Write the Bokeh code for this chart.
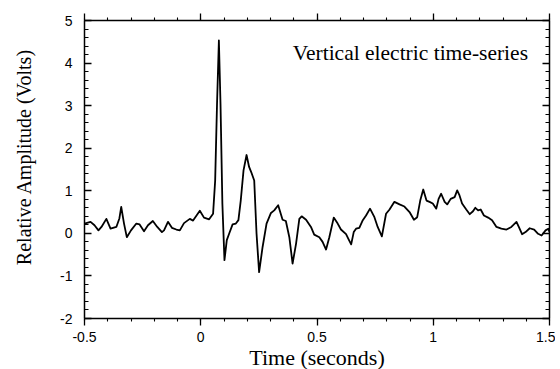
from bokeh.plotting import figure
from bokeh.models import (Range1d, LinearAxis, SingleIntervalTicker,
                          NumeralTickFormatter, CustomJSTickFormatter, Label,
                          ColumnDataSource)
from bokeh.embed import file_html
from bokeh.resources import INLINE

# ---- data ----
time_s = [-0.5, -0.474, -0.457, -0.44, -0.427, -0.406, -0.388, -0.363, -0.35, -0.342,
          -0.33, -0.318, -0.30, -0.277, -0.263, -0.244, -0.227, -0.206, -0.187, -0.167,
          -0.158, -0.141, -0.124, -0.105, -0.09, -0.072, -0.047, -0.033, -0.004, 0.014,
          0.036, 0.053, 0.062, 0.07, 0.078, 0.085, 0.093, 0.102, 0.112, 0.122,
          0.137, 0.151, 0.162, 0.172, 0.184, 0.197, 0.208, 0.217, 0.23, 0.24,
          0.251, 0.266, 0.283, 0.302, 0.316, 0.333, 0.352, 0.366, 0.381, 0.395,
          0.41, 0.424, 0.434, 0.453, 0.474, 0.488, 0.51, 0.524, 0.539, 0.553,
          0.572, 0.589, 0.603, 0.625, 0.635, 0.647, 0.658, 0.668, 0.682, 0.697,
          0.711, 0.728, 0.747, 0.761, 0.779, 0.797, 0.812, 0.833, 0.855, 0.876,
          0.898, 0.917, 0.931, 0.944, 0.957, 0.971, 0.984, 0.998, 1.013, 1.023,
          1.034, 1.049, 1.06, 1.075, 1.092, 1.103, 1.113, 1.124, 1.142, 1.157,
          1.171, 1.181, 1.193, 1.204, 1.218, 1.236, 1.253, 1.272, 1.293, 1.315,
          1.336, 1.358, 1.368, 1.382, 1.397, 1.415, 1.434, 1.451, 1.466, 1.483,
          1.495, 1.5]
amplitude_v = [0.23, 0.27, 0.19, 0.07, 0.15, 0.34, 0.11, 0.15, 0.35, 0.62,
               0.23, -0.09, 0.07, 0.23, 0.21, 0.05, 0.19, 0.29, 0.15, 0.03,
               0.07, 0.27, 0.13, 0.09, 0.07, 0.24, 0.34, 0.30, 0.53, 0.37,
               0.33, 0.46, 1.24, 3.04, 4.53, 3.04, 0.70, -0.63, -0.16, -0.01,
               0.21, 0.23, 0.31, 0.77, 1.48, 1.84, 1.56, 1.44, 1.24, -0.01,
               -0.91, -0.32, 0.23, 0.48, 0.54, 0.66, 0.32, 0.29, -0.09, -0.71,
               -0.24, 0.34, 0.40, 0.32, 0.15, -0.03, -0.09, -0.2, -0.38, -0.09,
               0.37, 0.23, 0.09, -0.02, -0.13, -0.26, 0.03, 0.11, 0.13, 0.31,
               0.42, 0.58, 0.38, 0.15, -0.07, 0.46, 0.56, 0.74, 0.68, 0.63,
               0.50, 0.32, 0.38, 0.77, 1.03, 0.77, 0.74, 0.70, 0.58, 0.81,
               0.93, 0.74, 0.68, 0.81, 0.85, 1.01, 0.89, 0.70, 0.56, 0.45,
               0.52, 0.60, 0.54, 0.56, 0.42, 0.37, 0.31, 0.15, 0.11, 0.09,
               0.15, 0.27, 0.15, -0.02, 0.03, 0.12, 0.09, -0.01, -0.05, 0.07,
               0.11, 0.03]

x_limits = (-0.5, 1.5)
y_limits = (-2, 5)
x_major_interval = 0.5
y_major_interval = 1

title_text = "Vertical electric time-series"
x_label_text = "Time (seconds)"
# leading no-break spaces lift the centred label slightly, as in the reference
y_label_text = "\u00a0\u00a0\u00a0\u00a0\u00a0Relative Amplitude (Volts)"

SANS = "Liberation Sans"
SERIF = "Liberation Serif"

p = figure(frame_width=465, frame_height=298,
           x_range=Range1d(*x_limits), y_range=Range1d(*y_limits),
           output_backend="svg", toolbar_location=None,
           min_border_left=84, min_border_top=20, min_border_right=6,
           min_border_bottom=10, x_axis_location=None, y_axis_location=None)
p.outline_line_color = None
p.xgrid.grid_line_color = None
p.ygrid.grid_line_color = None
p.background_fill_color = "white"
p.border_fill_color = "white"

blank = CustomJSTickFormatter(code="return ''")


def make_x_axis(show_labels):
    ax = LinearAxis(ticker=SingleIntervalTicker(interval=x_major_interval, num_minor_ticks=5),
                    formatter=NumeralTickFormatter(format="0.[0]") if show_labels else blank)
    ax.axis_line_width = 1.5
    ax.major_tick_line_width = 1.3
    ax.minor_tick_line_width = 1.1
    ax.major_tick_in = 0
    ax.major_tick_out = 7
    ax.minor_tick_in = 0
    ax.minor_tick_out = 3
    ax.major_label_text_font = SANS
    ax.major_label_text_color = "black"
    ax.major_label_text_font_size = "14px"
    ax.major_label_standoff = 6 if show_labels else 0
    return ax


def make_y_axis(show_labels):
    ax = LinearAxis(ticker=SingleIntervalTicker(interval=y_major_interval, num_minor_ticks=5),
                    formatter=NumeralTickFormatter(format="0") if show_labels else blank)
    ax.axis_line_width = 1.5
    ax.major_tick_line_width = 1.3
    ax.minor_tick_line_width = 1.1
    ax.major_tick_in = 7
    ax.major_tick_out = 0
    ax.minor_tick_in = 4
    ax.minor_tick_out = 0
    ax.major_label_text_font = SANS
    ax.major_label_text_color = "black"
    ax.major_label_text_font_size = "14px"
    ax.major_label_standoff = 12 if show_labels else 0
    return ax


xb = make_x_axis(True)
xb.axis_label = x_label_text
xb.axis_label_text_font = SERIF
xb.axis_label_text_font_size = "22px"
xb.axis_label_text_font_style = "normal"
xb.axis_label_text_color = "black"
xb.axis_label_standoff = 0
p.add_layout(xb, "below")
p.add_layout(make_x_axis(False), "above")

yl = make_y_axis(True)
yl.axis_label = y_label_text
yl.axis_label_text_font = SERIF
yl.axis_label_text_font_size = "20px"
yl.axis_label_text_font_style = "normal"
yl.axis_label_text_color = "black"
yl.axis_label_standoff = 22
p.add_layout(yl, "left")
p.add_layout(make_y_axis(False), "right")

src = ColumnDataSource(dict(t=time_s, v=amplitude_v))
p.line("t", "v", source=src, line_color="black", line_width=1.8, line_join="round")

p.add_layout(Label(x=0.396, y=4.24, text=title_text, text_font=SERIF,
                   text_font_size="21.5px", text_align="left",
                   text_baseline="alphabetic", text_color="black"))

open("out.html", "w").write(file_html(p, INLINE))
